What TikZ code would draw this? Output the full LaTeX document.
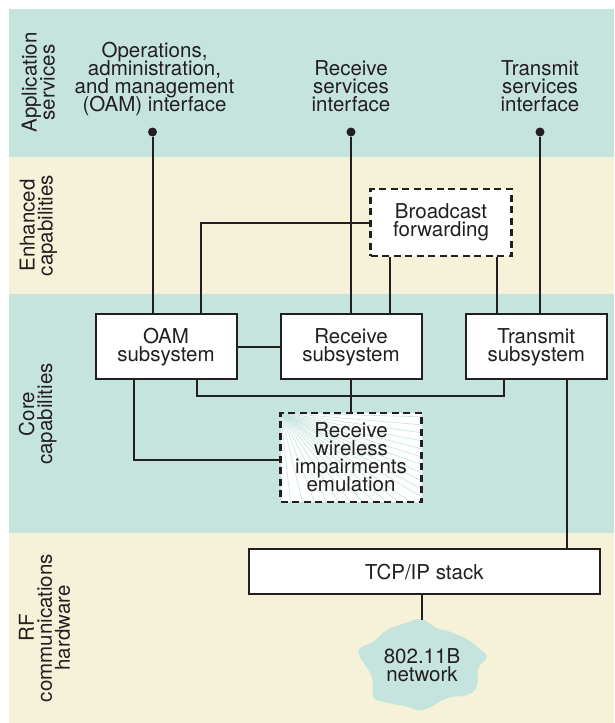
\documentclass[tikz,border=0pt]{standalone}
\usepackage{fontspec}
\setmainfont{TeX Gyre Heros}
\usetikzlibrary{positioning}
\definecolor{bandteal}{RGB}{197,228,221}
\definecolor{bandcream}{RGB}{246,241,217}
\definecolor{ink}{RGB}{35,31,32}
\newcommand{\figfont}{\fontsize{20.5}{18}\selectfont\lineskiplimit=-30pt}
\tikzset{
  subsys/.style={
    draw = ink,
    line width = 2pt,
    fill = white,
    minimum width = 141pt,
    minimum height = 65pt,
    align = center,
    inner sep = 0pt
  },
  optbox/.style={
    subsys,
    line width = 2.6pt,
    dash pattern = on 7pt off 4.5pt
  },
  fanline/.style={
    solid,
    draw = bandteal,
    line width = 0.6pt
  },
  wire/.style={
    draw = ink,
    line width = 2pt
  },
  pin/.style={
    inner sep = 0pt,
    minimum size = 9pt,
    shape = circle,
    fill = ink
  },
  layer/.style={
    rotate = 90,
    anchor = north,
    align = center,
    inner sep = 0pt
  },
  every node/.style={
    font = \figfont,
    text = ink
  }
}

\begin{document}
\begin{tikzpicture}[x=1pt,y=-1pt]
\useasboundingbox (0,0) rectangle (614,723);
% layers
\fill[bandteal]  (9,9)   rectangle (614,157);
\fill[bandcream] (9,157) rectangle (614,294);
\fill[bandteal]  (9,294) rectangle (614,533);
\fill[bandcream] (9,533) rectangle (614,723);
\node[layer] (lapp)  at (21.5,82.5)  {Application\\services};
\node[layer] (lenh)  at (19.5,225.5) {Enhanced\\capabilities};
\node[layer] (lcore) at (18.5,414)   {Core\\capabilities};
\node[layer] (lrf)   at (18.8,628)   {RF\\communications\\hardware};

% interfaces
\node[align=center] (oamif) at (154.5,79) {Operations,\\administration,\\and management\\(OAM) interface};
\node[align=center] (rxif)  at (351,86)   {Receive\\services\\interface};
\node[align=center] (txif)  at (540,86)   {Transmit\\services\\interface};
\node[pin] (oamdot) at (152.5,132) {};
\node[pin] (rxdot)  at (351,132)   {};
\node[pin] (txdot)  at (540,132)   {};

% boxes
\node[subsys] (oam) at (166,346.8)   {OAM\\subsystem};
\node[subsys] (rx)  at (351,346.8)   {Receive\\subsystem};
\node[subsys] (tx)  at (536.2,346.8) {Transmit\\subsystem};
\node[optbox, minimum height=67pt] (bcast) at (441,222.5) {Broadcast\\forwarding};
\node[optbox, minimum height=89pt, path picture={
    \foreach \d in {4,12,...,84}
      \draw[fanline] (path picture bounding box.north west) -- ([yshift=-\d pt]path picture bounding box.north east);
    \foreach \d in {10,22,...,140}
      \draw[fanline] (path picture bounding box.north west) -- ([xshift=\d pt]path picture bounding box.south west);
  }] (emul) at (351,457.3) {Receive\\wireless\\impairments\\emulation};
\node[subsys, minimum width=351pt, minimum height=45pt] (tcp) at (424.3,571.7) {TCP/IP stack};

% network cloud
\fill[bandteal] plot[smooth cycle, tension=0.7] coordinates {
  (421.7,619.3) (436.7,628.3) (450,631.7) (468.3,640) (478.3,648)
  (486.7,656.7) (478.3,668.3) (476.7,686.7) (466.7,695) (446.7,698.3)
  (423.3,710) (406.7,706.7) (383.3,701.7) (373.3,696.7) (371.7,676.7)
  (360,656.7) (360,648.3) (373.3,641.7) (386.7,630) (405,623.3)};
\coordinate (nettop) at (421.7,619.5);
\node[align=center] (net) at (422,665) {802.11B\\network};
\coordinate (bus) at (351,396);

% connectors
\draw[wire] (oamdot) -- (oamdot |- oam.north);
\draw[wire] (rxdot) -- (rxdot |- rx.north);
\draw[wire] (txdot) -- (txdot |- tx.north);
\draw[wire] (bcast.west) -| ([xshift=34.5pt]oam.north);
\draw[wire] ([xshift=-51pt]bcast.south) -- ([xshift=-51pt]bcast.south |- rx.north);
\draw[wire] ([xshift=55.5pt]bcast.south) -- ([xshift=55.5pt]bcast.south |- tx.north);
\draw[wire] (oam) -- (rx);
\draw[wire] ([xshift=31pt]oam.south) |- (bus) -| ([xshift=-32pt]tx.south);
\draw[wire] (rx.south) -- (emul.north);
\draw[wire] ([xshift=-32.5pt]oam.south) |- ([yshift=-2.7pt]emul.west);
\draw[wire] ([xshift=30.5pt]tx.south) -- ([xshift=30.5pt]tx.south |- tcp.north);
\draw[wire] (tcp.south -| nettop) -- (nettop);
\end{tikzpicture}
\end{document}
